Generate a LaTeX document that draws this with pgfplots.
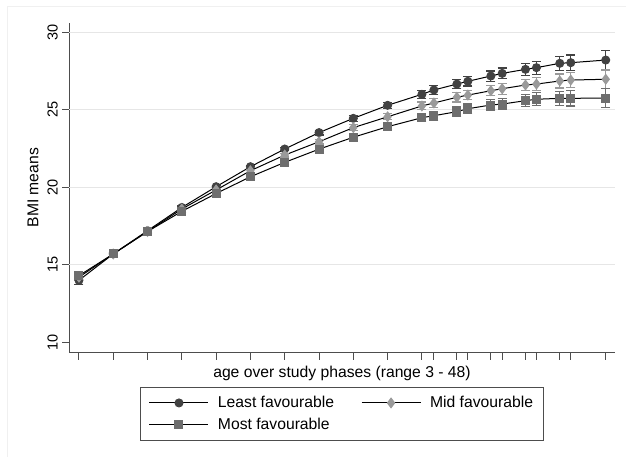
\documentclass[border=0pt]{standalone}
\usepackage{pgfplots}
\pgfplotsset{compat=1.18}
\usepackage{pgfplotstable}
\usepackage{fontspec}
\setmainfont{Liberation Sans}

\definecolor{leastc}{HTML}{424242}
\definecolor{midc}{HTML}{9A9A9A}
\definecolor{mostc}{HTML}{6E6E6E}
\definecolor{axc}{HTML}{4D4D4D}
\definecolor{gridc}{HTML}{E6E6E6}

% BMI means by phase, with CI half-widths
\pgfplotstableread{
x     least  lerr  mid    merr  most   serr
0     14.00  0.25  14.20  0.20  14.30  0.20
1     15.70  0.10  15.70  0.10  15.70  0.10
2     17.20  0.10  17.15  0.10  17.15  0.10
3     18.70  0.10  18.60  0.10  18.45  0.10
4     20.04  0.10  19.83  0.10  19.60  0.10
5     21.33  0.10  21.07  0.10  20.68  0.10
6     22.47  0.12  22.08  0.12  21.61  0.12
7     23.53  0.15  22.94  0.15  22.46  0.15
8     24.45  0.18  23.85  0.18  23.23  0.18
9     25.29  0.20  24.55  0.20  23.91  0.20
10    26.00  0.25  25.25  0.25  24.49  0.25
10.35 26.28  0.28  25.44  0.28  24.62  0.28
11.02 26.66  0.30  25.81  0.30  24.88  0.30
11.34 26.84  0.30  25.95  0.30  25.07  0.30
12.01 27.18  0.33  26.23  0.33  25.31  0.33
12.34 27.35  0.35  26.36  0.35  25.37  0.35
13.02 27.61  0.38  26.60  0.38  25.59  0.38
13.34 27.72  0.42  26.66  0.42  25.68  0.42
14.02 28.00  0.45  26.86  0.45  25.74  0.45
14.34 28.04  0.50  26.92  0.50  25.74  0.50
15.36 28.21  0.60  26.97  0.60  25.76  0.60
}\bmi

\begin{document}
\begin{tikzpicture}
\useasboundingbox (0,0) rectangle (626bp,457bp);
\fill[white] (0,0) rectangle (626bp,457bp);
\draw[gray!12] (7bp,0) -- (7bp,451bp) -- (626bp,451bp);
\begin{axis}[
    at={(69bp,104.3bp)}, anchor=south west,
    scale only axis,
    width=546bp, height=330bp,
    xmin=-0.29, xmax=15.63,
    ymin=9.33, ymax=30.62,
    axis lines*=left,
    axis line style={axc, line width=1bp},
    tick align=outside,
    major tick length=7bp,
    tick style={axc, line width=1bp},
    xtick=data, xticklabels={},
    ytick={10,15,20,25,30},
    extra y ticks={15,20,25,30},
    extra y tick labels={},
    extra y tick style={grid=major, tick style={draw=none}},
    grid style={gridc, line width=1bp},
    yticklabel style={xshift=-4bp, rotate=90, anchor=south, inner sep=0pt,
        font=\fontsize{14.5bp}{17bp}\selectfont},
    /pgf/number format/assume math mode=true,
    xlabel={age over study phases (range 3 - 48)},
    ylabel={BMI means},
    label style={font=\fontsize{15.7bp}{18bp}\selectfont},
    xlabel style={at={(axis description cs:0.5,-0.0615)}, anchor=center},
    ylabel style={at={(axis description cs:-0.066,0.5)}, anchor=center},
    legend columns=2,
    legend cell align=left,
    legend style={at={(0.5,-0.104)}, anchor=north,
        draw=axc, line width=1bp,
        font=\fontsize{15.7bp}{18bp}\selectfont,
        inner xsep=8bp, inner ysep=7bp,
        /tikz/row sep=5bp,
        /tikz/every odd column/.append style={column sep=7bp},
        /tikz/every even column/.append style={column sep=25bp}},
    legend image code/.code={
        \draw[#1, mark=none] (0bp,0bp) -- (59bp,0bp);
        \draw[#1, only marks] plot coordinates {(29.5bp,0bp)};
    },
]
\addplot[black, line width=1bp, mark=*, mark size=4bp,
    mark options={draw=leastc, fill=leastc},
    error bars/.cd, y dir=both, y explicit,
    error bar style={leastc, line width=1.2bp},
    error mark options={rotate=90, leastc, mark size=4.5bp, line width=1.2bp}]
    table[x=x, y=least, y error=lerr] {\bmi};
\addlegendentry{Least favourable}
\addplot[black, line width=1bp, mark=diamond*, mark size=4.8bp,
    mark options={draw=midc, fill=midc},
    error bars/.cd, y dir=both, y explicit,
    error bar style={midc, line width=1.2bp},
    error mark options={rotate=90, midc, mark size=4.5bp, line width=1.2bp}]
    table[x=x, y=mid, y error=merr] {\bmi};
\addlegendentry{Mid favourable}
\addplot[black, line width=1bp, mark=square*, mark size=4bp,
    mark options={draw=mostc, fill=mostc},
    error bars/.cd, y dir=both, y explicit,
    error bar style={mostc, line width=1.2bp},
    error mark options={rotate=90, mostc, mark size=4.5bp, line width=1.2bp}]
    table[x=x, y=most, y error=serr] {\bmi};
\addlegendentry{Most favourable}
\end{axis}
\end{tikzpicture}
\end{document}
